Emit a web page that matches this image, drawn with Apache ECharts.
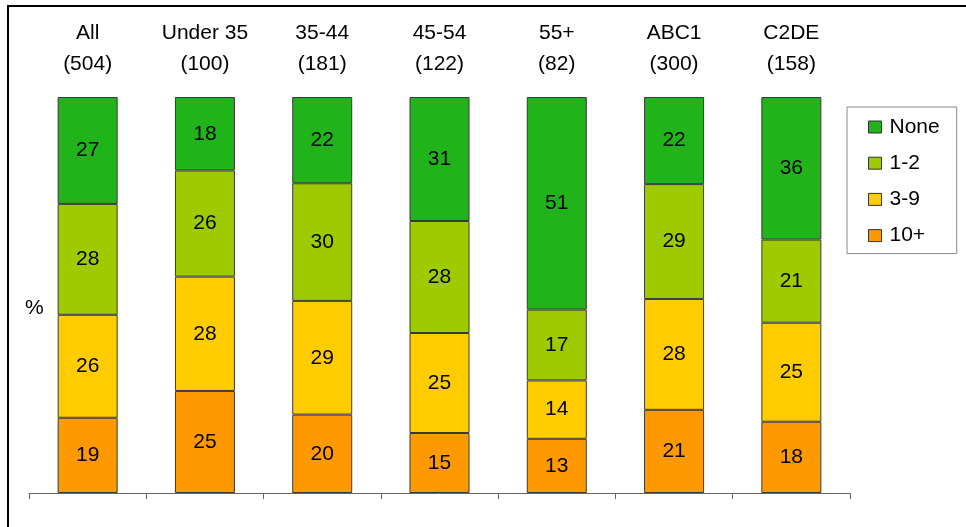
<!DOCTYPE html>
<html>
<head>
<meta charset="utf-8">
<script src="https://cdn.jsdelivr.net/npm/echarts@6/dist/echarts.min.js"></script>
<style>
html,body{margin:0;padding:0;background:#fff;}
#chart{width:966px;height:527px;}
</style>
</head>
<body>
<div id="chart"></div>
<script>
const categories = ['All', 'Under 35', '35-44', '45-54', '55+', 'ABC1', 'C2DE'];
const baseSizes = ['504', '100', '181', '122', '82', '300', '158'];
const seriesNames = ['None', '1-2', '3-9', '10+'];
const noneVals = [27, 18, 22, 31, 51, 22, 36];
const oneTwoVals = [28, 26, 30, 28, 17, 29, 21];
const threeNineVals = [26, 28, 29, 25, 14, 28, 25];
const tenPlusVals = [19, 25, 20, 15, 13, 21, 18];
const colors = { 'None': '#20B31A', '1-2': '#9ECB00', '3-9': '#FFCC00', '10+': '#FF9900' };

const valuesByName = { 'None': noneVals, '1-2': oneTwoVals, '3-9': threeNineVals, '10+': tenPlusVals };
const totals = categories.map((c, i) => noneVals[i] + oneTwoVals[i] + threeNineVals[i] + tenPlusVals[i]);

const font = 'Liberation Sans, Arial, sans-serif';
const fs = 21;
const stackOrder = ['10+', '3-9', '1-2', 'None'];
const series = stackOrder.map(name => ({
  name: name,
  type: 'bar',
  stack: 'total',
  barWidth: 60,
  xAxisIndex: 0,
  itemStyle: { color: colors[name], borderColor: '#3a3a3a', borderWidth: 1 },
  label: {
    show: true, position: 'inside', color: '#000', fontSize: fs, fontFamily: font,
    formatter: p => String(valuesByName[name][p.dataIndex])
  },
  data: valuesByName[name].map((v, i) => ({ value: v / totals[i] * 100 }))
}));

const chart = echarts.init(document.getElementById('chart'));
chart.setOption({
  animation: false,
  backgroundColor: '#fff',
  textStyle: { fontFamily: font },
  grid: { left: 29, right: 116, top: 97, bottom: 34, containLabel: false },
  xAxis: [
    {
      type: 'category', data: categories, position: 'bottom',
      axisLine: { lineStyle: { color: '#666', width: 1 } },
      axisTick: { show: true, length: 6, lineStyle: { color: '#666' } },
      axisLabel: { show: false }
    },
    {
      type: 'category', data: categories.map((c, i) => c + '\n(' + baseSizes[i] + ')'),
      position: 'top',
      axisLine: { show: false }, axisTick: { show: false },
      axisLabel: { color: '#000', fontSize: fs, fontFamily: font, lineHeight: 31, margin: 17, interval: 0 }
    }
  ],
  yAxis: { type: 'value', min: 0, max: 100, show: false },
  legend: {
    data: seriesNames,
    orient: 'vertical',
    left: 847, top: 107,
    padding: [9, 17, 7, 21],
    itemWidth: 13, itemHeight: 12, itemGap: 14.2,
    borderColor: '#888', borderWidth: 1,
    icon: 'rect',
    itemStyle: { borderColor: '#333', borderWidth: 1 },
    textStyle: { color: '#000', fontSize: fs, fontFamily: font, lineHeight: 22, padding: [0, 0, 0, 3] }
  },
  series: series,
  graphic: [
    { type: 'line', shape: { x1: 8, y1: 6, x2: 966, y2: 6 }, style: { stroke: '#000', lineWidth: 2 } },
    { type: 'line', shape: { x1: 8, y1: 5, x2: 8, y2: 527 }, style: { stroke: '#000', lineWidth: 2 } },
    { type: 'text', left: 25, top: 298, style: { text: '%', fontSize: fs, fontFamily: font, fill: '#000' } }
  ]
});
</script>
</body>
</html>
